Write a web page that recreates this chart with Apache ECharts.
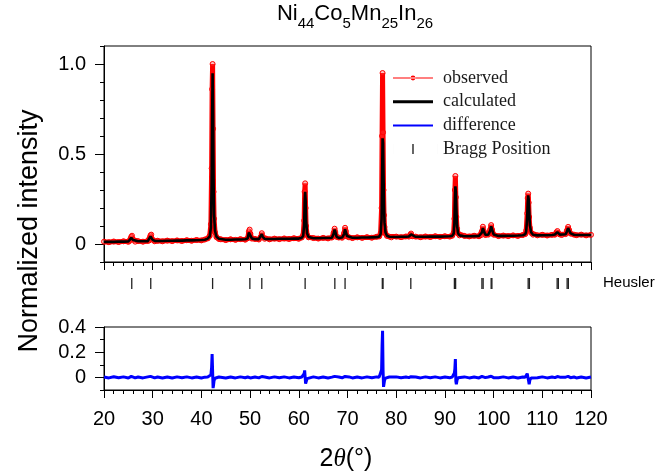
<!DOCTYPE html>
<html>
<head>
<meta charset="utf-8">
<script src="https://cdn.jsdelivr.net/npm/echarts@6/dist/echarts.min.js"></script>
<style>
  html, body { margin: 0; padding: 0; background: #fff; }
  #chart { width: 659px; height: 474px; }
</style>
</head>
<body>
<div id="chart"></div>
<script>
// Powder diffraction refinement of Ni44Co5Mn25In26 (2θ in degrees, intensities normalized)
const twoTheta = [
  20, 21, 22, 23, 24, 25, 25.3, 25.6, 25.75, 26, 26.4,
  27, 28, 29, 29.3, 29.55, 29.7, 29.95, 30.4,
  31, 32, 33, 34, 35, 36, 37, 38, 39, 40, 40.7,
  41.3, 41.7, 41.95, 42.1, 42.2, 42.3, 42.4, 42.5, 42.6, 42.8, 43.1, 43.6,
  44, 45, 46, 47, 48, 49,
  49.5, 49.75, 49.9, 50.05, 50.35, 51, 51.8, 52.2, 52.4, 52.6, 53,
  54, 55, 56, 57, 58, 59, 60,
  60.6, 60.9, 61.1, 61.2, 61.3, 61.4, 61.5, 61.7, 62,
  63, 64, 65, 66, 66.8, 67.15, 67.35, 67.5, 67.75, 68.2, 68.9, 69.3, 69.5, 69.65, 69.9, 70.3,
  71, 72, 73, 74, 75, 76, 76.5,
  76.8, 77, 77.1, 77.2, 77.3, 77.4, 77.5, 77.6, 77.8, 78.1, 78.6,
  79, 80, 81, 82, 82.6, 82.85, 83.05, 83.3,
  84, 85, 86, 87, 88, 89, 90, 91, 91.5,
  91.8, 91.95, 92.05, 92.15, 92.25, 92.35, 92.5, 92.7, 93,
  94, 95, 96, 97, 97.4, 97.6, 97.8, 98, 98.3, 98.9, 99.3, 99.5, 99.7, 100,
  101, 102, 103, 104, 105, 106, 106.5,
  106.7, 106.9, 107, 107.1, 107.2, 107.3, 107.45, 107.7, 108.1,
  109, 110, 111, 112, 112.6, 112.9, 113.1, 113.3, 113.6, 114, 114.8, 115.05, 115.3, 115.5, 115.8, 116.5, 117, 118, 119, 120
];

const observed = [
  0.013, 0.010, 0.014, 0.011, 0.015, 0.012, 0.018, 0.040, 0.046, 0.024, 0.013,
  0.016, 0.013, 0.017, 0.020, 0.048, 0.052, 0.025, 0.015,
  0.018, 0.015, 0.019, 0.016, 0.020, 0.017, 0.021, 0.018, 0.022, 0.020, 0.025,
  0.031, 0.045, 0.110, 0.420, 0.860, 1.000, 0.640, 0.290, 0.140, 0.065, 0.038, 0.028,
  0.026, 0.022, 0.026, 0.023, 0.027, 0.024,
  0.032, 0.070, 0.080, 0.058, 0.030, 0.028, 0.025, 0.040, 0.060, 0.038, 0.029,
  0.026, 0.030, 0.027, 0.031, 0.028, 0.032, 0.029,
  0.036, 0.050, 0.130, 0.290, 0.337, 0.200, 0.100, 0.050, 0.037,
  0.033, 0.030, 0.034, 0.031, 0.036, 0.062, 0.085, 0.066, 0.040, 0.036, 0.035, 0.060, 0.090, 0.072, 0.042, 0.037,
  0.033, 0.037, 0.034, 0.038, 0.035, 0.040, 0.042,
  0.060, 0.200, 0.600, 0.950, 0.620, 0.300, 0.160, 0.095, 0.058, 0.045, 0.041,
  0.037, 0.041, 0.038, 0.042, 0.041, 0.050, 0.058, 0.043,
  0.041, 0.038, 0.042, 0.039, 0.043, 0.040, 0.043, 0.041, 0.046,
  0.062, 0.140, 0.300, 0.378, 0.260, 0.150, 0.085, 0.058, 0.048,
  0.045, 0.042, 0.046, 0.043, 0.049, 0.070, 0.096, 0.070, 0.050, 0.052, 0.080, 0.105, 0.078, 0.052,
  0.044, 0.047, 0.044, 0.048, 0.045, 0.050, 0.055,
  0.075, 0.170, 0.255, 0.280, 0.230, 0.150, 0.090, 0.062, 0.052,
  0.048, 0.051, 0.047, 0.051, 0.052, 0.065, 0.072, 0.060, 0.053, 0.050, 0.055, 0.075, 0.095, 0.078, 0.058, 0.052, 0.049, 0.052, 0.048, 0.051
];

const calculated = [
  0.012, 0.012, 0.012, 0.013, 0.013, 0.014, 0.016, 0.034, 0.040, 0.022, 0.015,
  0.015, 0.015, 0.016, 0.019, 0.042, 0.047, 0.024, 0.017,
  0.017, 0.017, 0.018, 0.018, 0.019, 0.019, 0.020, 0.020, 0.021, 0.022, 0.024,
  0.030, 0.042, 0.090, 0.330, 0.690, 0.948, 0.720, 0.350, 0.165, 0.072, 0.040, 0.029,
  0.025, 0.024, 0.024, 0.025, 0.025, 0.026,
  0.030, 0.064, 0.075, 0.060, 0.031, 0.027, 0.027, 0.036, 0.055, 0.040, 0.028,
  0.028, 0.028, 0.029, 0.029, 0.029, 0.030, 0.030,
  0.034, 0.046, 0.105, 0.235, 0.290, 0.245, 0.130, 0.058, 0.039,
  0.032, 0.032, 0.033, 0.033, 0.035, 0.057, 0.080, 0.068, 0.041, 0.034, 0.036, 0.055, 0.082, 0.073, 0.044, 0.035,
  0.035, 0.035, 0.036, 0.036, 0.037, 0.038, 0.041,
  0.055, 0.140, 0.350, 0.587, 0.560, 0.380, 0.210, 0.120, 0.064, 0.046, 0.040,
  0.039, 0.039, 0.040, 0.040, 0.042, 0.048, 0.053, 0.045,
  0.040, 0.040, 0.040, 0.041, 0.041, 0.041, 0.042, 0.043, 0.045,
  0.058, 0.115, 0.240, 0.320, 0.290, 0.200, 0.100, 0.060, 0.048,
  0.043, 0.043, 0.044, 0.045, 0.048, 0.064, 0.088, 0.072, 0.051, 0.051, 0.074, 0.098, 0.080, 0.053,
  0.045, 0.045, 0.046, 0.046, 0.047, 0.049, 0.054,
  0.072, 0.150, 0.230, 0.270, 0.250, 0.190, 0.105, 0.065, 0.051,
  0.048, 0.049, 0.049, 0.050, 0.053, 0.060, 0.066, 0.061, 0.052, 0.051, 0.054, 0.070, 0.088, 0.080, 0.059, 0.051, 0.050, 0.050, 0.050, 0.050
];

const difference = [
  0.003, -0.004, 0.005, -0.003, 0.004, -0.005, 0.002, 0.008, 0.006, 0.003, -0.004,
  0.003, -0.004, 0.004, 0.002, 0.008, 0.006, 0.003, -0.004,
  0.003, -0.004, 0.003, -0.005, 0.004, -0.003, 0.004, -0.004, 0.003, -0.005, 0.002,
  0.003, 0.006, 0.020, 0.080, 0.185, 0.052, -0.085, -0.060, -0.025, -0.007, -0.002, 0.003,
  0.004, -0.004, 0.003, -0.004, 0.004, -0.003,
  0.003, 0.008, 0.006, -0.004, -0.002, 0.003, -0.004, 0.006, 0.007, -0.004, 0.003,
  -0.004, 0.004, -0.003, 0.004, -0.004, 0.003, -0.003,
  0.003, 0.005, 0.030, 0.055, 0.040, -0.050, -0.035, -0.010, -0.003,
  0.004, -0.004, 0.003, -0.004, 0.002, 0.007, 0.008, -0.004, -0.002, 0.003, -0.003, 0.007, 0.008, -0.003, -0.003, 0.004,
  -0.004, 0.003, -0.004, 0.004, -0.003, 0.004, 0.002,
  0.006, 0.060, 0.250, 0.370, 0.060, -0.075, -0.050, -0.025, -0.006, -0.001, 0.003,
  -0.004, 0.004, -0.003, 0.003, -0.002, 0.004, 0.006, -0.003,
  0.003, -0.004, 0.004, -0.003, 0.004, -0.004, 0.003, -0.003, 0.002,
  0.006, 0.035, 0.070, 0.145, -0.030, -0.055, -0.020, -0.003, 0.002,
  0.004, -0.004, 0.003, -0.004, 0.002, 0.008, 0.010, -0.004, -0.002, 0.003, 0.008, 0.009, -0.004, -0.002,
  -0.003, 0.004, -0.004, 0.003, -0.004, 0.003, 0.002,
  0.005, 0.030, 0.045, 0.020, -0.030, -0.055, -0.020, -0.004, 0.003,
  -0.003, 0.004, -0.004, 0.003, -0.002, 0.006, 0.007, -0.003, 0.002, -0.003, 0.002, 0.006, 0.008, -0.004, -0.002, 0.003, -0.004, 0.003, -0.004, 0.003
];

// Heusler reflections (Kα1/Kα2 pairs resolved at high angle)
const braggPositions = [
  25.7, 29.6, 42.3, 49.95, 52.4, 61.3, 67.4, 69.5, 77.15, 77.3, 83.0,
  91.95, 92.2, 97.6, 97.85, 99.5, 99.65, 107.1, 107.35, 113.05, 113.3, 115.1, 115.35
];

const angleRange = [20, 120];
const intensityTicks = [0, 0.5, 1.0];
const differenceTicks = [0, 0.2, 0.4];

const sans = 'Liberation Sans, Arial, sans-serif';
const serif = 'Liberation Serif, Times New Roman, serif';
const ink = '#000';

function tickText(v) {
  return Math.abs(v) < 1e-9 ? '0' : Number(v).toFixed(1);
}

function minorAxis(gridIndex, min, max) {
  return {
    gridIndex, type: 'value', position: 'left', min, max, interval: 0.1,
    axisLine: { show: true, onZero: false, lineStyle: { color: ink, width: 1 } },
    axisTick: { show: true, inside: false, length: 4, lineStyle: { color: ink, width: 1 } },
    axisLabel: { show: false },
    splitLine: { show: false }
  };
}

function majorAxis(gridIndex, min, max, values) {
  return {
    gridIndex, type: 'value', position: 'left', offset: 0, min, max,
    axisLine: { show: false, onZero: false },
    axisTick: { show: true, inside: false, length: 9, customValues: values, lineStyle: { color: ink, width: 1 } },
    axisLabel: {
      show: true, customValues: values, formatter: tickText,
      fontSize: 20, fontFamily: sans, color: ink, margin: 18
    },
    splitLine: { show: false }
  };
}

function angleAxis(gridIndex, withLabels) {
  return {
    gridIndex, type: 'value', position: 'bottom', min: angleRange[0], max: angleRange[1], interval: 10,
    axisLine: { show: true, onZero: false, lineStyle: { color: ink, width: 1 } },
    axisTick: { show: true, inside: false, length: 8, lineStyle: { color: ink, width: 1 } },
    minorTick: { show: true, splitNumber: 5, length: 4, lineStyle: { color: ink, width: 1 } },
    axisLabel: { show: withLabels, fontSize: 20, fontFamily: sans, color: ink, margin: 19 },
    splitLine: { show: false },
    minorSplitLine: { show: false }
  };
}

const observedPoints = twoTheta.map((t, i) => [t, observed[i]]);
const calculatedPoints = twoTheta.map((t, i) => [t, calculated[i]]);
const differencePoints = twoTheta.map((t, i) => [t, difference[i]]);
const braggPoints = braggPositions.map(p => [p, 0.5]);

const chart = echarts.init(document.getElementById('chart'), null, { renderer: 'canvas' });

chart.setOption({
  animation: false,
  backgroundColor: '#fff',
  grid: [
    { left: 104, top: 46, width: 487, height: 216, show: true, borderColor: ink, borderWidth: 1, backgroundColor: 'transparent', outerBoundsMode: 'none' },
    { left: 104, top: 271, width: 487, height: 25, show: false, outerBoundsMode: 'none' },
    { left: 104, top: 327, width: 487, height: 63, show: true, borderColor: ink, borderWidth: 1, backgroundColor: 'transparent', outerBoundsMode: 'none' }
  ],
  xAxis: [
    angleAxis(0, false),
    { gridIndex: 1, type: 'value', min: angleRange[0], max: angleRange[1], show: false },
    angleAxis(2, true)
  ],
  yAxis: [
    minorAxis(0, -0.1, 1.1),
    majorAxis(0, -0.1, 1.1, intensityTicks),
    { gridIndex: 1, type: 'value', min: 0, max: 1, show: false },
    minorAxis(2, -0.1, 0.4),
    majorAxis(2, -0.1, 0.4, differenceTicks)
  ],
  legend: {
    orient: 'vertical',
    left: 388, top: 63,
    itemWidth: 45, itemHeight: 10, itemGap: 3.7,
    symbolKeepAspect: true,
    selectedMode: false,
    textStyle: { fontFamily: serif, fontSize: 18, color: '#1a1a1a', lineHeight: 20 },
    data: [
      { name: 'observed', icon: 'path://M0,4.4h40v1.2h-40z M17.6,5a2.4,2.4 0 1,0 4.8,0a2.4,2.4 0 1,0 -4.8,0z M45,5h0.01v0.01h-0.01z', itemStyle: { color: '#ff0000', borderWidth: 0 } },
      { name: 'calculated', icon: 'path://M0,0h40v3h-40z M45,1h0.01v0.01h-0.01z', itemStyle: { color: ink, borderWidth: 0 } },
      { name: 'difference', icon: 'path://M0,0h40v2h-40z M45,1h0.01v0.01h-0.01z', itemStyle: { color: '#0000ff', borderWidth: 0 } },
      { name: 'Bragg Position', icon: 'path://M0,0h0.01v10h-0.01z M19.4,0h1.2v10h-1.2z M45,0h0.01v10h-0.01z', itemStyle: { color: ink, borderWidth: 0 } }
    ]
  },
  series: [
    {
      name: 'observed', type: 'line', xAxisIndex: 0, yAxisIndex: 0,
      data: observedPoints,
      color: '#ff0000',
      showSymbol: true, showAllSymbol: true,
      symbol: 'circle', symbolSize: 5,
      itemStyle: { color: 'rgba(255,70,70,0.35)', borderColor: '#ff0000', borderWidth: 1 },
      lineStyle: { color: '#ff0000', width: 5 },
      z: 2
    },
    {
      name: 'calculated', type: 'line', xAxisIndex: 0, yAxisIndex: 0,
      data: calculatedPoints,
      color: ink,
      symbol: 'none',
      lineStyle: { color: ink, width: 2.6 },
      z: 3
    },
    {
      name: 'difference', type: 'line', xAxisIndex: 2, yAxisIndex: 3,
      data: differencePoints,
      color: '#0000ff',
      symbol: 'none',
      lineStyle: { color: '#0000ff', width: 3 },
      z: 3
    },
    {
      name: 'Bragg Position', type: 'scatter', xAxisIndex: 1, yAxisIndex: 2,
      data: braggPoints,
      color: ink,
      symbol: 'rect', symbolSize: [1.3, 11],
      itemStyle: { color: '#222', opacity: 1 },
      z: 3
    }
  ],
  graphic: [
    {
      type: 'text', x: 355, y: 1, silent: true,
      style: {
        text: '{m|Ni}{s|44}{m|Co}{s|5}{m|Mn}{s|25}{m|In}{s|26}',
        align: 'center', verticalAlign: 'top',
        rich: {
          m: { fontSize: 22, fontFamily: sans, fill: ink, lineHeight: 26 },
          s: { fontSize: 15, fontFamily: sans, fill: ink, lineHeight: 16, padding: [20, 0, 0, 0] }
        }
      }
    },
    {
      type: 'text', x: 30, y: 231, rotation: Math.PI / 2, silent: true,
      style: { text: 'Normalized intensity', fontSize: 27, fontFamily: sans, fill: ink, align: 'center', verticalAlign: 'middle' }
    },
    {
      type: 'text', x: 346, y: 459, silent: true,
      style: {
        text: '{n|2}{i|θ}{n|(°)}',
        align: 'center', verticalAlign: 'middle',
        rich: {
          n: { fontSize: 25, fontFamily: sans, fill: ink },
          i: { fontSize: 25, fontFamily: serif, fontStyle: 'italic', fill: ink }
        }
      }
    },
    {
      type: 'text', x: 603, y: 283, silent: true,
      style: { text: 'Heusler', fontSize: 15, fontFamily: sans, fill: ink, align: 'left', verticalAlign: 'middle' }
    }
  ]
});
</script>
</body>
</html>
